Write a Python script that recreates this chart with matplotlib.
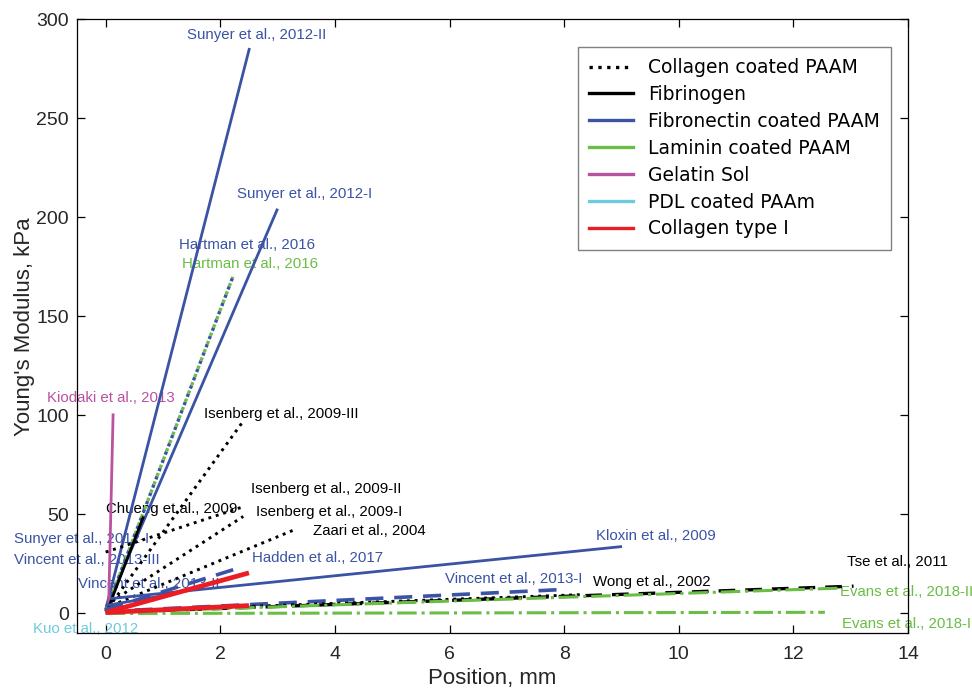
import matplotlib
matplotlib.use("Agg")
import matplotlib.pyplot as plt
from matplotlib.lines import Line2D

# ---------------- data ----------------
studies = ["Sunyer et al., 2012-II", "Sunyer et al., 2012-I", "Hartman et al., 2016",
           "Hartman et al., 2016 (LN)", "Kiodaki et al., 2013", "Isenberg et al., 2009-III",
           "Isenberg et al., 2009-II", "Isenberg et al., 2009-I", "Chueng et.al., 2009",
           "Zaari et al., 2004", "Kloxin et al., 2009", "Vincent et al., 2013-I",
           "Vincent et al., 2013-II", "Vincent et al., 2013-III", "Tse et al., 2011",
           "Wong et al., 2002", "Evans et al., 2018-II", "Evans et al., 2018-I",
           "Kuo et al., 2012", "Collagen I (a)", "Collagen I (b)"]
categories = ["Fibronectin", "Fibronectin", "Fibronectin", "Laminin", "Gelatin", "CollagenPAAM",
              "CollagenPAAM", "CollagenPAAM", "Fibrinogen", "CollagenPAAM", "Fibronectin",
              "Fibronectin", "Fibronectin", "Fibronectin", "CollagenPAAM", "CollagenPAAM",
              "Laminin", "Laminin", "PDL", "CollagenI", "CollagenI"]
x_start = [0.0, 0.0, 0.0, 0.0, 0.05, 0.05, 0.0, 0.1, 0.05, 0.1, 0.08, 0.0, 0.0, 0.0,
           0.0, 0.0, 0.0, 0.0, 0.0, 0.0, 0.0]
y_start = [2.0, 2.0, 1.0, 1.0, 1.0, 3.0, 31.0, 6.0, 3.0, 4.0, 7.5, 1.0, 2.0, 4.0,
           0.5, 1.0, 0.5, 0.0, 0.0, 0.5, 0.5]
x_end = [2.51, 3.0, 2.22, 2.22, 0.13, 2.38, 2.38, 2.40, 0.66, 3.27, 9.01, 7.9, 2.37, 1.0,
         13.05, 8.3, 12.8, 12.55, 0.05, 2.5, 2.5]
y_end = [285.5, 204.4, 170.0, 170.0, 101.0, 96.3, 53.7, 49.0, 49.0, 42.0, 33.8, 12.0, 23.4, 9.0,
         13.8, 9.5, 12.8, 0.6, 0.5, 20.5, 4.0]

legend_names = ["Collagen coated PAAM", "Fibrinogen", "Fibronectin coated PAAM",
                "Laminin coated PAAM", "Gelatin Sol", "PDL coated PAAm", "Collagen type I"]
legend_keys = ["CollagenPAAM", "Fibrinogen", "Fibronectin", "Laminin", "Gelatin", "PDL", "CollagenI"]

label_texts = ["Sunyer et al., 2012-II", "Sunyer et al., 2012-I", "Hartman et al., 2016",
               "Hartman et al., 2016", "Kiodaki et al., 2013", "Isenberg et al., 2009-III",
               "Isenberg et al., 2009-II", "Isenberg et al., 2009-I", "Chueng et.al., 2009",
               "Zaari et al., 2004", "Sunyer et al., 2012-I", "Vincent et al., 2013-III",
               "Hadden et al., 2017", "Vincent et al., 2013-II", "Kloxin et al., 2009",
               "Vincent et al., 2013-I", "Wong et al., 2002", "Tse et al., 2011",
               "Evans et al., 2018-II", "Evans et al., 2018-I", "Kuo et al., 2012"]
label_cats = ["Fibronectin", "Fibronectin", "Fibronectin", "Laminin", "Gelatin", "CollagenPAAM",
              "CollagenPAAM", "CollagenPAAM", "CollagenPAAM", "CollagenPAAM", "Fibronectin",
              "Fibronectin", "Fibronectin", "Fibronectin", "Fibronectin", "Fibronectin",
              "CollagenPAAM", "CollagenPAAM", "Laminin", "Laminin", "PDL"]
label_x = [1.42, 2.30, 1.28, 1.33, -1.02, 1.72, 2.54, 2.62, 0.005, 3.62, -1.60, -1.60,
           2.56, -0.48, 8.56, 5.92, 8.50, 12.94, 12.82, 12.85, -1.26]
label_y = [291.9, 211.6, 185.9, 176.3, 108.6, 100.9, 63.0, 51.2, 52.9, 41.9, 37.7, 27.1,
           27.9, 15.0, 38.9, 17.2, 15.7, 25.8, 10.6, -5.1, -8.0]

# ---------------- styles ----------------
colors = {"CollagenPAAM": "#000000", "Fibrinogen": "#000000", "Fibronectin": "#3A53A4",
          "Laminin": "#6ABD45", "Gelatin": "#B9529F", "PDL": "#6CCBDD", "CollagenI": "#EC1C24"}
line_styles = ["-", "-", ":", ":", "-", ":", ":", ":", "-", ":", "-", (0, (5, 3)),
               (0, (5, 3)), "-", (0, (5, 3)), ":", "-.", "-.", "-", "-", "-"]
line_widths = [2.0, 2.0, 2.4, 2.4, 2.0, 2.1, 2.1, 2.1, 2.0, 2.1, 2.0, 2.6, 2.6, 2.0,
               2.4, 2.1, 2.2, 2.2, 2.0, 3.4, 3.4]

plt.rcParams["font.family"] = ["Liberation Sans", "DejaVu Sans"]
fig = plt.figure(figsize=(9.72, 6.88), dpi=100)
ax = fig.add_axes([77/972, 1-633.3/688, (908-77)/972, (633.3-19.3)/688])

for i in range(len(studies)):
    ls = line_styles[i]
    if i == 3:  # green dotted interleaved with blue dotted
        ls = (1.6, (1, 1.65))
    ax.plot([x_start[i], x_end[i]], [y_start[i], y_end[i]], color=colors[categories[i]],
            linestyle=ls, linewidth=line_widths[i], solid_capstyle="butt", dash_capstyle="butt",
            zorder=3)

for t, c, x, y in zip(label_texts, label_cats, label_x, label_y):
    ax.text(x, y, t, color=colors[c], fontsize=10.8, ha="left", va="center", clip_on=False,
            zorder=2)

ax.set_xlim(-0.5, 14)
ax.set_ylim(-10, 300)
ax.set_xticks(range(0, 15, 2))
ax.set_yticks(range(0, 301, 50))
ax.tick_params(direction="in", top=True, right=True, length=6, width=0.9,
               labelsize=14, labelcolor="#262626", pad=6)
ax.tick_params(axis="x", pad=9.5)
for s in ax.spines.values():
    s.set_linewidth(0.9)
ax.set_xlabel("Position, mm", fontsize=16, color="#262626", labelpad=3)
ax.set_ylabel("Young's Modulus, kPa", fontsize=16, color="#262626", labelpad=1)

handles = []
for key in legend_keys:
    ls = ":" if key == "CollagenPAAM" else "-"
    handles.append(Line2D([], [], color=colors[key], linestyle=ls, linewidth=2.4))
leg = ax.legend(handles, legend_names, loc="upper right", bbox_to_anchor=(0.9795, 0.955),
                borderaxespad=0, fancybox=False, handlelength=2.35, labelspacing=0.42,
                prop={"family": "DejaVu Sans", "size": 13.5}, edgecolor="#808080",
                framealpha=1, borderpad=0.6)
leg.get_frame().set_linewidth(1.0)

fig.savefig("out.png", dpi=100)
